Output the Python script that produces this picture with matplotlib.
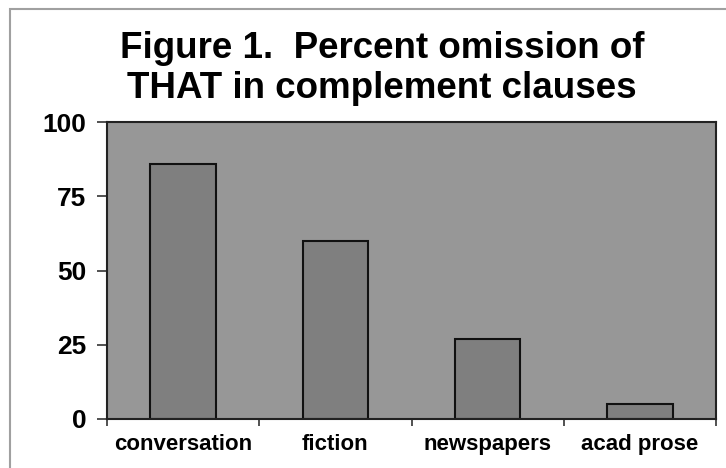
import matplotlib
matplotlib.use("Agg")
import matplotlib.pyplot as plt
from matplotlib.patches import Rectangle

categories = ["conversation", "fiction", "newspapers", "acad prose"]
values = [86, 60, 27, 5]
yticks = [0, 25, 50, 75, 100]

plt.rcParams['font.family'] = ['Liberation Sans', 'DejaVu Sans']

fig = plt.figure(figsize=(7.26, 4.68), dpi=100)
fig.patch.set_facecolor("white")
# outer frame
fig.add_artist(Rectangle((10/726, -0.1), 1.0, 1 - 8.5/468 + 0.1, transform=fig.transFigure,
                         fill=False, edgecolor="#a0a0a0", linewidth=1.5))

ax = fig.add_axes([107/726, 1 - 419/468, 609/726, (419 - 122)/468])
ax.set_facecolor("#979797")
x = list(range(len(categories)))
ax.bar(x, values, width=0.43, color="#7f7f7f", edgecolor="#111111", linewidth=1.5)
ax.set_xlim(-0.5, len(categories) - 0.5)
ax.set_ylim(0, 100)
ax.set_yticks(yticks)
ax.set_yticklabels([str(v) for v in yticks], fontsize=19, fontweight="bold")
ax.set_xticks(x)
ax.set_xticklabels(categories, fontsize=16, fontweight="bold")
ax.tick_params(axis="x", length=0, pad=11)
ax.set_xticks([i - 0.5 for i in range(len(categories) + 1)], minor=True)
ax.tick_params(axis="x", which="minor", length=5, width=1.2, color="#333333")
ax.tick_params(axis="y", length=7, width=1.2, color="#333333", pad=8)
for s in ax.spines.values():
    s.set_color("#222222")
    s.set_linewidth(1.5)

fig.text(382/726, 1 - 48/468, "Figure 1.  Percent omission of", ha="center", va="center",
         fontsize=26.5, fontweight="bold")
fig.text(382/726, 1 - 88/468, "THAT in complement clauses", ha="center", va="center",
         fontsize=26.5, fontweight="bold")

fig.savefig("out.png", dpi=100)
